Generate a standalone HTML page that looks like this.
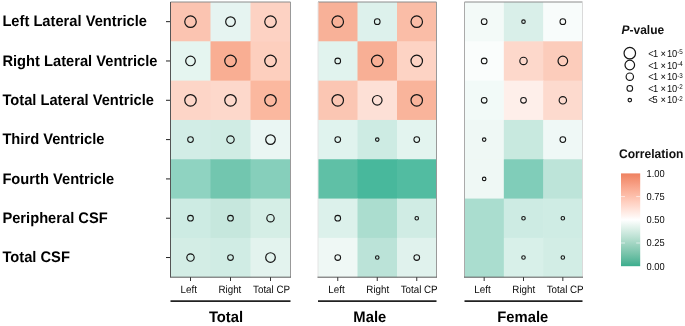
<!DOCTYPE html>
<html><head><meta charset="utf-8"><style>
html,body{margin:0;padding:0;background:#fff;}
body{width:685px;height:326px;overflow:hidden;}
svg{display:block;font-family:"Liberation Sans",sans-serif;will-change:transform;text-rendering:geometricPrecision;}
</style></head><body>
<svg width="685" height="326" viewBox="0 0 685 326">
<defs>
<linearGradient id="cb" x1="0" y1="0" x2="0" y2="1"><stop offset="0.000" stop-color="#EE8160"/><stop offset="0.050" stop-color="#F28E6F"/><stop offset="0.100" stop-color="#F69A7E"/><stop offset="0.150" stop-color="#F9A78E"/><stop offset="0.200" stop-color="#FBB49D"/><stop offset="0.250" stop-color="#FDC0AD"/><stop offset="0.300" stop-color="#FFCDBD"/><stop offset="0.350" stop-color="#FFD9CD"/><stop offset="0.400" stop-color="#FFE6DE"/><stop offset="0.450" stop-color="#FFF2EE"/><stop offset="0.500" stop-color="#FFFFFF"/><stop offset="0.550" stop-color="#EDF7F3"/><stop offset="0.600" stop-color="#DBEFE7"/><stop offset="0.650" stop-color="#C9E7DC"/><stop offset="0.700" stop-color="#B7DFD0"/><stop offset="0.750" stop-color="#A4D6C4"/><stop offset="0.800" stop-color="#91CEB9"/><stop offset="0.850" stop-color="#7EC6AE"/><stop offset="0.900" stop-color="#6ABEA3"/><stop offset="0.950" stop-color="#54B598"/><stop offset="1.000" stop-color="#3AAD8D"/></linearGradient>
</defs>

<text transform="translate(2.4 26.26) scale(1 1.04)" font-size="14.7" font-weight="bold" fill="#000">Left Lateral Ventricle</text>
<line x1="166" x2="170.5" y1="21.66" y2="21.66" stroke="#222" stroke-width="1"/>
<text transform="translate(2.4 65.57) scale(1 1.04)" font-size="14.7" font-weight="bold" fill="#000">Right Lateral Ventricle</text>
<line x1="166" x2="170.5" y1="60.97" y2="60.97" stroke="#222" stroke-width="1"/>
<text transform="translate(2.4 104.89) scale(1 1.04)" font-size="14.7" font-weight="bold" fill="#000">Total Lateral Ventricle</text>
<line x1="166" x2="170.5" y1="100.29" y2="100.29" stroke="#222" stroke-width="1"/>
<text transform="translate(2.4 144.20) scale(1 1.04)" font-size="14.7" font-weight="bold" fill="#000">Third Ventricle</text>
<line x1="166" x2="170.5" y1="139.60" y2="139.60" stroke="#222" stroke-width="1"/>
<text transform="translate(2.4 183.51) scale(1 1.04)" font-size="14.7" font-weight="bold" fill="#000">Fourth Ventricle</text>
<line x1="166" x2="170.5" y1="178.91" y2="178.91" stroke="#222" stroke-width="1"/>
<text transform="translate(2.4 222.83) scale(1 1.04)" font-size="14.7" font-weight="bold" fill="#000">Peripheral CSF</text>
<line x1="166" x2="170.5" y1="218.23" y2="218.23" stroke="#222" stroke-width="1"/>
<text transform="translate(2.4 262.14) scale(1 1.04)" font-size="14.7" font-weight="bold" fill="#000">Total CSF</text>
<line x1="166" x2="170.5" y1="257.54" y2="257.54" stroke="#222" stroke-width="1"/>
<rect x="170.50" y="2.00" width="40.60" height="39.91" fill="#FBC4B1"/>
<rect x="210.50" y="2.00" width="40.60" height="39.91" fill="#E6F4F1"/>
<rect x="250.50" y="2.00" width="40.00" height="39.91" fill="#FDD2C3"/>
<rect x="170.50" y="41.31" width="40.60" height="39.91" fill="#E5F5F0"/>
<rect x="210.50" y="41.31" width="40.60" height="39.91" fill="#F9AE93"/>
<rect x="250.50" y="41.31" width="40.00" height="39.91" fill="#FDCFBE"/>
<rect x="170.50" y="80.63" width="40.60" height="39.91" fill="#FDD5C7"/>
<rect x="210.50" y="80.63" width="40.60" height="39.91" fill="#FDD8CB"/>
<rect x="250.50" y="80.63" width="40.00" height="39.91" fill="#FBB89F"/>
<rect x="170.50" y="119.94" width="40.60" height="39.91" fill="#D2EDE6"/>
<rect x="210.50" y="119.94" width="40.60" height="39.91" fill="#D0ECE4"/>
<rect x="250.50" y="119.94" width="40.00" height="39.91" fill="#EAF6F3"/>
<rect x="170.50" y="159.26" width="40.60" height="39.91" fill="#8FD3C1"/>
<rect x="210.50" y="159.26" width="40.60" height="39.91" fill="#72C6AF"/>
<rect x="250.50" y="159.26" width="40.00" height="39.91" fill="#86CFBB"/>
<rect x="170.50" y="198.57" width="40.60" height="39.91" fill="#CDEBE3"/>
<rect x="210.50" y="198.57" width="40.60" height="39.91" fill="#C6E7DD"/>
<rect x="250.50" y="198.57" width="40.00" height="39.91" fill="#D5EEE6"/>
<rect x="170.50" y="237.89" width="40.60" height="39.31" fill="#D3EDE5"/>
<rect x="210.50" y="237.89" width="40.60" height="39.31" fill="#D0ECE4"/>
<rect x="250.50" y="237.89" width="40.00" height="39.31" fill="#E3F3EE"/>
<line x1="170.50" x2="290.50" y1="2.00" y2="2.00" stroke="#8c8c8c" stroke-width="1"/>
<line x1="290.50" x2="290.50" y1="2.00" y2="277.20" stroke="#999" stroke-width="1"/>
<line x1="170.50" x2="170.50" y1="2.00" y2="277.20" stroke="#555" stroke-width="1"/>
<line x1="170.00" x2="291.00" y1="277.20" y2="277.20" stroke="#5a5a5a" stroke-width="1"/>
<circle cx="190.50" cy="21.66" r="5.75" fill="none" stroke="#151515" stroke-width="1.2"/>
<circle cx="230.50" cy="21.66" r="4.8" fill="none" stroke="#151515" stroke-width="1.2"/>
<circle cx="270.50" cy="21.66" r="5.75" fill="none" stroke="#151515" stroke-width="1.2"/>
<circle cx="190.50" cy="60.97" r="4.8" fill="none" stroke="#151515" stroke-width="1.2"/>
<circle cx="230.50" cy="60.97" r="5.75" fill="none" stroke="#151515" stroke-width="1.2"/>
<circle cx="270.50" cy="60.97" r="5.75" fill="none" stroke="#151515" stroke-width="1.2"/>
<circle cx="190.50" cy="100.29" r="5.75" fill="none" stroke="#151515" stroke-width="1.2"/>
<circle cx="230.50" cy="100.29" r="5.75" fill="none" stroke="#151515" stroke-width="1.2"/>
<circle cx="270.50" cy="100.29" r="5.75" fill="none" stroke="#151515" stroke-width="1.2"/>
<circle cx="190.50" cy="139.60" r="2.85" fill="none" stroke="#151515" stroke-width="1.05"/>
<circle cx="230.50" cy="139.60" r="3.7" fill="none" stroke="#151515" stroke-width="1.15"/>
<circle cx="270.50" cy="139.60" r="4.8" fill="none" stroke="#151515" stroke-width="1.2"/>
<circle cx="190.50" cy="218.23" r="2.85" fill="none" stroke="#151515" stroke-width="1.05"/>
<circle cx="230.50" cy="218.23" r="2.85" fill="none" stroke="#151515" stroke-width="1.05"/>
<circle cx="270.50" cy="218.23" r="3.7" fill="none" stroke="#151515" stroke-width="1.15"/>
<circle cx="190.50" cy="257.54" r="3.7" fill="none" stroke="#151515" stroke-width="1.15"/>
<circle cx="230.50" cy="257.54" r="2.85" fill="none" stroke="#151515" stroke-width="1.05"/>
<circle cx="270.50" cy="257.54" r="4.8" fill="none" stroke="#151515" stroke-width="1.2"/>
<line x1="190.50" x2="190.50" y1="277.2" y2="281" stroke="#333" stroke-width="1"/>
<text transform="translate(188.73 292.6) scale(1 1.09)" font-size="9.8" fill="#0a0a0a" text-anchor="middle">Left</text>
<line x1="230.50" x2="230.50" y1="277.2" y2="281" stroke="#333" stroke-width="1"/>
<text transform="translate(229.90 292.6) scale(1 1.09)" font-size="9.8" fill="#0a0a0a" text-anchor="middle">Right</text>
<line x1="270.50" x2="270.50" y1="277.2" y2="281" stroke="#333" stroke-width="1"/>
<text transform="translate(271.55 292.6) scale(1 1.09)" font-size="9.8" fill="#0a0a0a" text-anchor="middle">Total CP</text>
<line x1="170.50" x2="290.50" y1="301.1" y2="301.1" stroke="#222" stroke-width="1.7"/>
<text transform="translate(226.0 321.6) scale(1 1.04)" font-size="14.8" font-weight="bold" fill="#000" text-anchor="middle">Total</text>
<rect x="318.00" y="2.00" width="40.10" height="39.91" fill="#F8B198"/>
<rect x="357.50" y="2.00" width="40.10" height="39.91" fill="#DDF1EC"/>
<rect x="397.00" y="2.00" width="39.50" height="39.91" fill="#FABDA7"/>
<rect x="318.00" y="41.31" width="40.10" height="39.91" fill="#E1F3EE"/>
<rect x="357.50" y="41.31" width="40.10" height="39.91" fill="#F8AF95"/>
<rect x="397.00" y="41.31" width="39.50" height="39.91" fill="#FDD3C4"/>
<rect x="318.00" y="80.63" width="40.10" height="39.91" fill="#FBC6B3"/>
<rect x="357.50" y="80.63" width="40.10" height="39.91" fill="#FDE0D6"/>
<rect x="397.00" y="80.63" width="39.50" height="39.91" fill="#F9B49B"/>
<rect x="318.00" y="119.94" width="40.10" height="39.91" fill="#E0F3EE"/>
<rect x="357.50" y="119.94" width="40.10" height="39.91" fill="#CDEBE3"/>
<rect x="397.00" y="119.94" width="39.50" height="39.91" fill="#E3F4EF"/>
<rect x="318.00" y="159.26" width="40.10" height="39.91" fill="#5FC0A6"/>
<rect x="357.50" y="159.26" width="40.10" height="39.91" fill="#48B89C"/>
<rect x="397.00" y="159.26" width="39.50" height="39.91" fill="#52BCA1"/>
<rect x="318.00" y="198.57" width="40.10" height="39.91" fill="#DCF1EB"/>
<rect x="357.50" y="198.57" width="40.10" height="39.91" fill="#ABDDCF"/>
<rect x="397.00" y="198.57" width="39.50" height="39.91" fill="#D0ECE4"/>
<rect x="318.00" y="237.89" width="40.10" height="39.31" fill="#EFF8F5"/>
<rect x="357.50" y="237.89" width="40.10" height="39.31" fill="#BBE3D8"/>
<rect x="397.00" y="237.89" width="39.50" height="39.31" fill="#E0F2ED"/>
<line x1="318.00" x2="436.50" y1="2.00" y2="2.00" stroke="#8c8c8c" stroke-width="1"/>
<line x1="436.50" x2="436.50" y1="2.00" y2="277.20" stroke="#999" stroke-width="1"/>
<line x1="318.00" x2="318.00" y1="2.00" y2="277.20" stroke="#e4e4e4" stroke-width="1"/>
<line x1="317.50" x2="437.00" y1="277.20" y2="277.20" stroke="#5a5a5a" stroke-width="1"/>
<circle cx="337.75" cy="21.66" r="5.75" fill="none" stroke="#151515" stroke-width="1.2"/>
<circle cx="377.25" cy="21.66" r="2.85" fill="none" stroke="#151515" stroke-width="1.05"/>
<circle cx="416.75" cy="21.66" r="5.75" fill="none" stroke="#151515" stroke-width="1.2"/>
<circle cx="337.75" cy="60.97" r="2.85" fill="none" stroke="#151515" stroke-width="1.05"/>
<circle cx="377.25" cy="60.97" r="5.75" fill="none" stroke="#151515" stroke-width="1.2"/>
<circle cx="416.75" cy="60.97" r="5.75" fill="none" stroke="#151515" stroke-width="1.2"/>
<circle cx="337.75" cy="100.29" r="5.75" fill="none" stroke="#151515" stroke-width="1.2"/>
<circle cx="377.25" cy="100.29" r="4.8" fill="none" stroke="#151515" stroke-width="1.2"/>
<circle cx="416.75" cy="100.29" r="5.75" fill="none" stroke="#151515" stroke-width="1.2"/>
<circle cx="337.75" cy="139.60" r="2.85" fill="none" stroke="#151515" stroke-width="1.05"/>
<circle cx="377.25" cy="139.60" r="1.75" fill="none" stroke="#151515" stroke-width="1.15"/>
<circle cx="416.75" cy="139.60" r="2.85" fill="none" stroke="#151515" stroke-width="1.05"/>
<circle cx="337.75" cy="218.23" r="2.85" fill="none" stroke="#151515" stroke-width="1.05"/>
<circle cx="416.75" cy="218.23" r="1.75" fill="none" stroke="#151515" stroke-width="1.15"/>
<circle cx="337.75" cy="257.54" r="2.85" fill="none" stroke="#151515" stroke-width="1.05"/>
<circle cx="377.25" cy="257.54" r="1.75" fill="none" stroke="#151515" stroke-width="1.15"/>
<circle cx="416.75" cy="257.54" r="2.85" fill="none" stroke="#151515" stroke-width="1.05"/>
<line x1="337.75" x2="337.75" y1="277.2" y2="281" stroke="#333" stroke-width="1"/>
<text transform="translate(336.43 292.6) scale(1 1.09)" font-size="9.8" fill="#0a0a0a" text-anchor="middle">Left</text>
<line x1="377.25" x2="377.25" y1="277.2" y2="281" stroke="#333" stroke-width="1"/>
<text transform="translate(377.80 292.6) scale(1 1.09)" font-size="9.8" fill="#0a0a0a" text-anchor="middle">Right</text>
<line x1="416.75" x2="416.75" y1="277.2" y2="281" stroke="#333" stroke-width="1"/>
<text transform="translate(419.15 292.6) scale(1 1.09)" font-size="9.8" fill="#0a0a0a" text-anchor="middle">Total CP</text>
<line x1="318.00" x2="436.50" y1="301.1" y2="301.1" stroke="#222" stroke-width="1.7"/>
<text transform="translate(369.8 321.6) scale(1 1.04)" font-size="14.8" font-weight="bold" fill="#000" text-anchor="middle">Male</text>
<rect x="464.50" y="2.00" width="39.93" height="39.91" fill="#F3FAF8"/>
<rect x="503.83" y="2.00" width="39.93" height="39.91" fill="#D9EFE9"/>
<rect x="543.17" y="2.00" width="39.33" height="39.91" fill="#F8FCFB"/>
<rect x="464.50" y="41.31" width="39.93" height="39.91" fill="#FAFDFC"/>
<rect x="503.83" y="41.31" width="39.93" height="39.91" fill="#FDD8CB"/>
<rect x="543.17" y="41.31" width="39.33" height="39.91" fill="#FCCCBB"/>
<rect x="464.50" y="80.63" width="39.93" height="39.91" fill="#F2FAF8"/>
<rect x="503.83" y="80.63" width="39.93" height="39.91" fill="#FEEFEA"/>
<rect x="543.17" y="80.63" width="39.33" height="39.91" fill="#FDDACE"/>
<rect x="464.50" y="119.94" width="39.93" height="39.91" fill="#EFF8F5"/>
<rect x="503.83" y="119.94" width="39.93" height="39.91" fill="#C8E9DF"/>
<rect x="543.17" y="119.94" width="39.33" height="39.91" fill="#EFF8F6"/>
<rect x="464.50" y="159.26" width="39.93" height="39.91" fill="#EFF8F5"/>
<rect x="503.83" y="159.26" width="39.93" height="39.91" fill="#80CDB9"/>
<rect x="543.17" y="159.26" width="39.33" height="39.91" fill="#BDE4D9"/>
<rect x="464.50" y="198.57" width="39.93" height="39.91" fill="#AADDCF"/>
<rect x="503.83" y="198.57" width="39.93" height="39.91" fill="#CDEBE3"/>
<rect x="543.17" y="198.57" width="39.33" height="39.91" fill="#CFECE4"/>
<rect x="464.50" y="237.89" width="39.93" height="39.31" fill="#AADDCF"/>
<rect x="503.83" y="237.89" width="39.93" height="39.31" fill="#D8F0E9"/>
<rect x="543.17" y="237.89" width="39.33" height="39.31" fill="#D2EDE5"/>
<line x1="464.50" x2="582.50" y1="2.00" y2="2.00" stroke="#8c8c8c" stroke-width="1"/>
<line x1="582.50" x2="582.50" y1="2.00" y2="277.20" stroke="#dadada" stroke-width="1"/>
<line x1="464.50" x2="464.50" y1="2.00" y2="277.20" stroke="#aaa" stroke-width="1"/>
<line x1="464.00" x2="583.00" y1="277.20" y2="277.20" stroke="#5a5a5a" stroke-width="1"/>
<circle cx="484.17" cy="21.66" r="2.85" fill="none" stroke="#151515" stroke-width="1.05"/>
<circle cx="523.50" cy="21.66" r="1.75" fill="none" stroke="#151515" stroke-width="1.15"/>
<circle cx="562.83" cy="21.66" r="2.85" fill="none" stroke="#151515" stroke-width="1.05"/>
<circle cx="484.17" cy="60.97" r="2.85" fill="none" stroke="#151515" stroke-width="1.05"/>
<circle cx="523.50" cy="60.97" r="3.7" fill="none" stroke="#151515" stroke-width="1.15"/>
<circle cx="562.83" cy="60.97" r="4.8" fill="none" stroke="#151515" stroke-width="1.2"/>
<circle cx="484.17" cy="100.29" r="2.85" fill="none" stroke="#151515" stroke-width="1.05"/>
<circle cx="523.50" cy="100.29" r="2.85" fill="none" stroke="#151515" stroke-width="1.05"/>
<circle cx="562.83" cy="100.29" r="3.7" fill="none" stroke="#151515" stroke-width="1.15"/>
<circle cx="484.17" cy="139.60" r="1.75" fill="none" stroke="#151515" stroke-width="1.15"/>
<circle cx="562.83" cy="139.60" r="2.85" fill="none" stroke="#151515" stroke-width="1.05"/>
<circle cx="484.17" cy="178.91" r="1.75" fill="none" stroke="#151515" stroke-width="1.15"/>
<circle cx="523.50" cy="218.23" r="1.75" fill="none" stroke="#151515" stroke-width="1.15"/>
<circle cx="562.83" cy="218.23" r="1.75" fill="none" stroke="#151515" stroke-width="1.15"/>
<circle cx="523.50" cy="257.54" r="1.75" fill="none" stroke="#151515" stroke-width="1.15"/>
<circle cx="562.83" cy="257.54" r="1.75" fill="none" stroke="#151515" stroke-width="1.15"/>
<line x1="484.17" x2="484.17" y1="277.2" y2="281" stroke="#333" stroke-width="1"/>
<text transform="translate(482.43 292.6) scale(1 1.09)" font-size="9.8" fill="#0a0a0a" text-anchor="middle">Left</text>
<line x1="523.50" x2="523.50" y1="277.2" y2="281" stroke="#333" stroke-width="1"/>
<text transform="translate(523.80 292.6) scale(1 1.09)" font-size="9.8" fill="#0a0a0a" text-anchor="middle">Right</text>
<line x1="562.83" x2="562.83" y1="277.2" y2="281" stroke="#333" stroke-width="1"/>
<text transform="translate(565.15 292.6) scale(1 1.09)" font-size="9.8" fill="#0a0a0a" text-anchor="middle">Total CP</text>
<line x1="464.50" x2="582.50" y1="301.1" y2="301.1" stroke="#222" stroke-width="1.7"/>
<text transform="translate(522.8 321.6) scale(1 1.04)" font-size="14.8" font-weight="bold" fill="#000" text-anchor="middle">Female</text>
<text transform="translate(621.5 34.3) scale(1 1.04)" font-size="12" font-weight="bold" fill="#111"><tspan font-style="italic">P</tspan>-value</text>
<circle cx="629.8" cy="53.2" r="5.75" fill="none" stroke="#151515" stroke-width="1.2"/>
<text transform="translate(0 56.70) scale(1 1.09)" font-size="9.3" fill="#0a0a0a"><tspan x="648.3">&lt;</tspan><tspan x="652.9">1</tspan><tspan x="660.5">×</tspan><tspan x="666.9">10</tspan><tspan x="677.2" font-size="6.3" dy="-2.3">-5</tspan></text>
<circle cx="629.8" cy="65.0" r="4.8" fill="none" stroke="#151515" stroke-width="1.2"/>
<text transform="translate(0 68.60) scale(1 1.09)" font-size="9.3" fill="#0a0a0a"><tspan x="648.3">&lt;</tspan><tspan x="652.9">1</tspan><tspan x="660.5">×</tspan><tspan x="666.9">10</tspan><tspan x="677.2" font-size="6.3" dy="-2.3">-4</tspan></text>
<circle cx="629.8" cy="76.7" r="3.7" fill="none" stroke="#151515" stroke-width="1.15"/>
<text transform="translate(0 80.30) scale(1 1.09)" font-size="9.3" fill="#0a0a0a"><tspan x="648.3">&lt;</tspan><tspan x="652.9">1</tspan><tspan x="660.5">×</tspan><tspan x="666.9">10</tspan><tspan x="677.2" font-size="6.3" dy="-2.3">-3</tspan></text>
<circle cx="629.8" cy="88.4" r="2.85" fill="none" stroke="#151515" stroke-width="1.05"/>
<text transform="translate(0 92.00) scale(1 1.09)" font-size="9.3" fill="#0a0a0a"><tspan x="648.3">&lt;</tspan><tspan x="652.9">1</tspan><tspan x="660.5">×</tspan><tspan x="666.9">10</tspan><tspan x="677.2" font-size="6.3" dy="-2.3">-2</tspan></text>
<circle cx="629.8" cy="100.1" r="1.75" fill="none" stroke="#151515" stroke-width="1.15"/>
<text transform="translate(0 103.30) scale(1 1.09)" font-size="9.3" fill="#0a0a0a"><tspan x="648.3">&lt;</tspan><tspan x="652.6">5</tspan><tspan x="660.5">×</tspan><tspan x="666.9">10</tspan><tspan x="677.2" font-size="6.3" dy="-2.3">-2</tspan></text>
<text transform="translate(618.9 158.4) scale(1 1.04)" font-size="12.1" font-weight="bold" fill="#111">Correlation</text>
<rect x="621" y="173.4" width="19.2" height="92.8" fill="url(#cb)"/>
<text transform="translate(646.5 176.70) scale(1 1.09)" font-size="9.3" fill="#0a0a0a">1.00</text>
<line x1="621" x2="625" y1="196.60" y2="196.60" stroke="#fff" stroke-opacity="0.75" stroke-width="0.8"/>
<line x1="636.2" x2="640.2" y1="196.60" y2="196.60" stroke="#fff" stroke-opacity="0.75" stroke-width="0.8"/>
<text transform="translate(646.5 199.90) scale(1 1.09)" font-size="9.3" fill="#0a0a0a">0.75</text>
<line x1="621" x2="625" y1="219.80" y2="219.80" stroke="#fff" stroke-opacity="0.75" stroke-width="0.8"/>
<line x1="636.2" x2="640.2" y1="219.80" y2="219.80" stroke="#fff" stroke-opacity="0.75" stroke-width="0.8"/>
<text transform="translate(646.5 223.10) scale(1 1.09)" font-size="9.3" fill="#0a0a0a">0.50</text>
<line x1="621" x2="625" y1="243.00" y2="243.00" stroke="#fff" stroke-opacity="0.75" stroke-width="0.8"/>
<line x1="636.2" x2="640.2" y1="243.00" y2="243.00" stroke="#fff" stroke-opacity="0.75" stroke-width="0.8"/>
<text transform="translate(646.5 246.30) scale(1 1.09)" font-size="9.3" fill="#0a0a0a">0.25</text>
<text transform="translate(646.5 269.50) scale(1 1.09)" font-size="9.3" fill="#0a0a0a">0.00</text>
</svg></body></html>
